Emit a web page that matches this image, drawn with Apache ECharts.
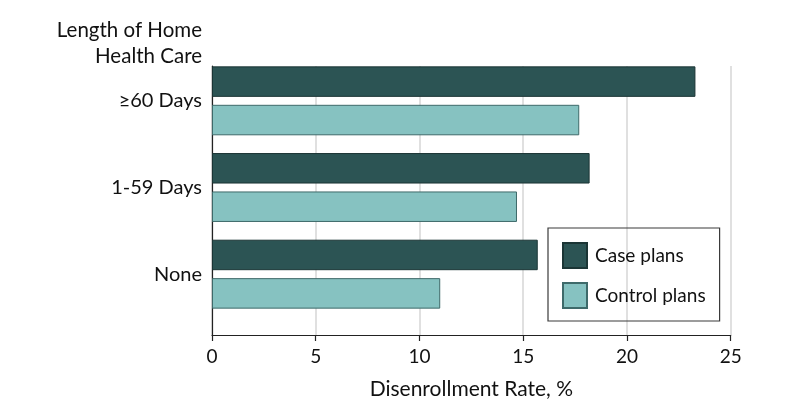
<!DOCTYPE html>
<html>
<head>
<meta charset="utf-8">
<script src="https://cdn.jsdelivr.net/npm/echarts@6/dist/echarts.min.js"></script>
<style>
  html, body { margin: 0; padding: 0; background: #ffffff; }
  #chart { width: 798px; height: 420px; }
</style>
</head>
<body>
<div id="chart"></div>
<script>
const categories = ['≥60 Days', '1-59 Days', 'None'];
const seriesNames = ['Case plans', 'Control plans'];
const casePlans = [23.3, 18.2, 15.7];
const controlPlans = [17.7, 14.7, 11.0];
const axisHeading = 'Length of Home\nHealth Care';
const xAxisTitle = 'Disenrollment Rate, %';
const xMin = 0, xMax = 25, xStep = 5;

const FONT = 'Lato';
const TXT = '#111111';
const chart = echarts.init(document.getElementById('chart'), null, { renderer: 'canvas' });

chart.setOption({
  animation: false,
  backgroundColor: '#ffffff',
  textStyle: { fontFamily: FONT, color: TXT },
  graphic: [{
    type: 'text',
    x: 202, y: 17,
    style: {
      text: axisHeading,
      align: 'right',
      font: '20.5px ' + FONT,
      fill: TXT,
      lineHeight: 26
    }
  }],
  legend: {
    data: seriesNames,
    orient: 'vertical',
    left: 548, top: 228,
    padding: [14, 14, 12, 14],
    itemWidth: 24, itemHeight: 25, itemGap: 13,
    borderColor: '#3a3a3a', borderWidth: 1.2,
    icon: 'rect',
    textStyle: { fontFamily: FONT, fontSize: 19, color: TXT, padding: [0, 0, 0, 3] }
  },
  grid: [
    { left: 212, right: 67.3, top: 57.5, height: 260, containLabel: false },
    { left: 212, right: 67.3, top: 66, bottom: 85, containLabel: false }
  ],
  xAxis: [
    { gridIndex: 0, type: 'value', min: xMin, max: xMax, interval: xStep, show: false },
    {
      gridIndex: 1, type: 'value', min: xMin, max: xMax, interval: xStep,
      name: xAxisTitle, nameLocation: 'middle', nameGap: 44,
      nameTextStyle: { fontFamily: FONT, fontSize: 21, color: TXT },
      axisLine: { show: true, lineStyle: { color: '#222', width: 1.2 } },
      axisTick: { show: true, length: 6, lineStyle: { color: '#222', width: 1.2 } },
      axisLabel: { fontFamily: FONT, fontSize: 19, color: TXT, margin: 12 },
      splitLine: { show: true, lineStyle: { color: '#d6d6d6', width: 1.5 } }
    }
  ],
  yAxis: [
    {
      gridIndex: 0, type: 'category', data: categories, inverse: true,
      axisLine: { show: false }, axisTick: { show: false },
      splitLine: { show: false },
      axisLabel: { fontFamily: FONT, fontSize: 20, color: TXT, margin: 10 }
    },
    {
      gridIndex: 1, type: 'value', min: 0, max: 1,
      axisLine: { show: true, lineStyle: { color: '#222', width: 1.2 } },
      axisTick: { show: false }, axisLabel: { show: false },
      splitLine: { show: false }
    }
  ],
  series: [
    {
      name: seriesNames[0], type: 'bar', xAxisIndex: 0, yAxisIndex: 0,
      data: casePlans, barWidth: 30.5, barGap: '26%',
      itemStyle: { color: '#2c5454', borderColor: '#1b3535', borderWidth: 1 },
      z: 3
    },
    {
      name: seriesNames[1], type: 'bar', xAxisIndex: 0, yAxisIndex: 0,
      data: controlPlans, barWidth: 30.5, barGap: '26%',
      itemStyle: { color: '#86c2c1', borderColor: '#3e6a6a', borderWidth: 1 },
      z: 3
    }
  ]
});
</script>
</body>
</html>
